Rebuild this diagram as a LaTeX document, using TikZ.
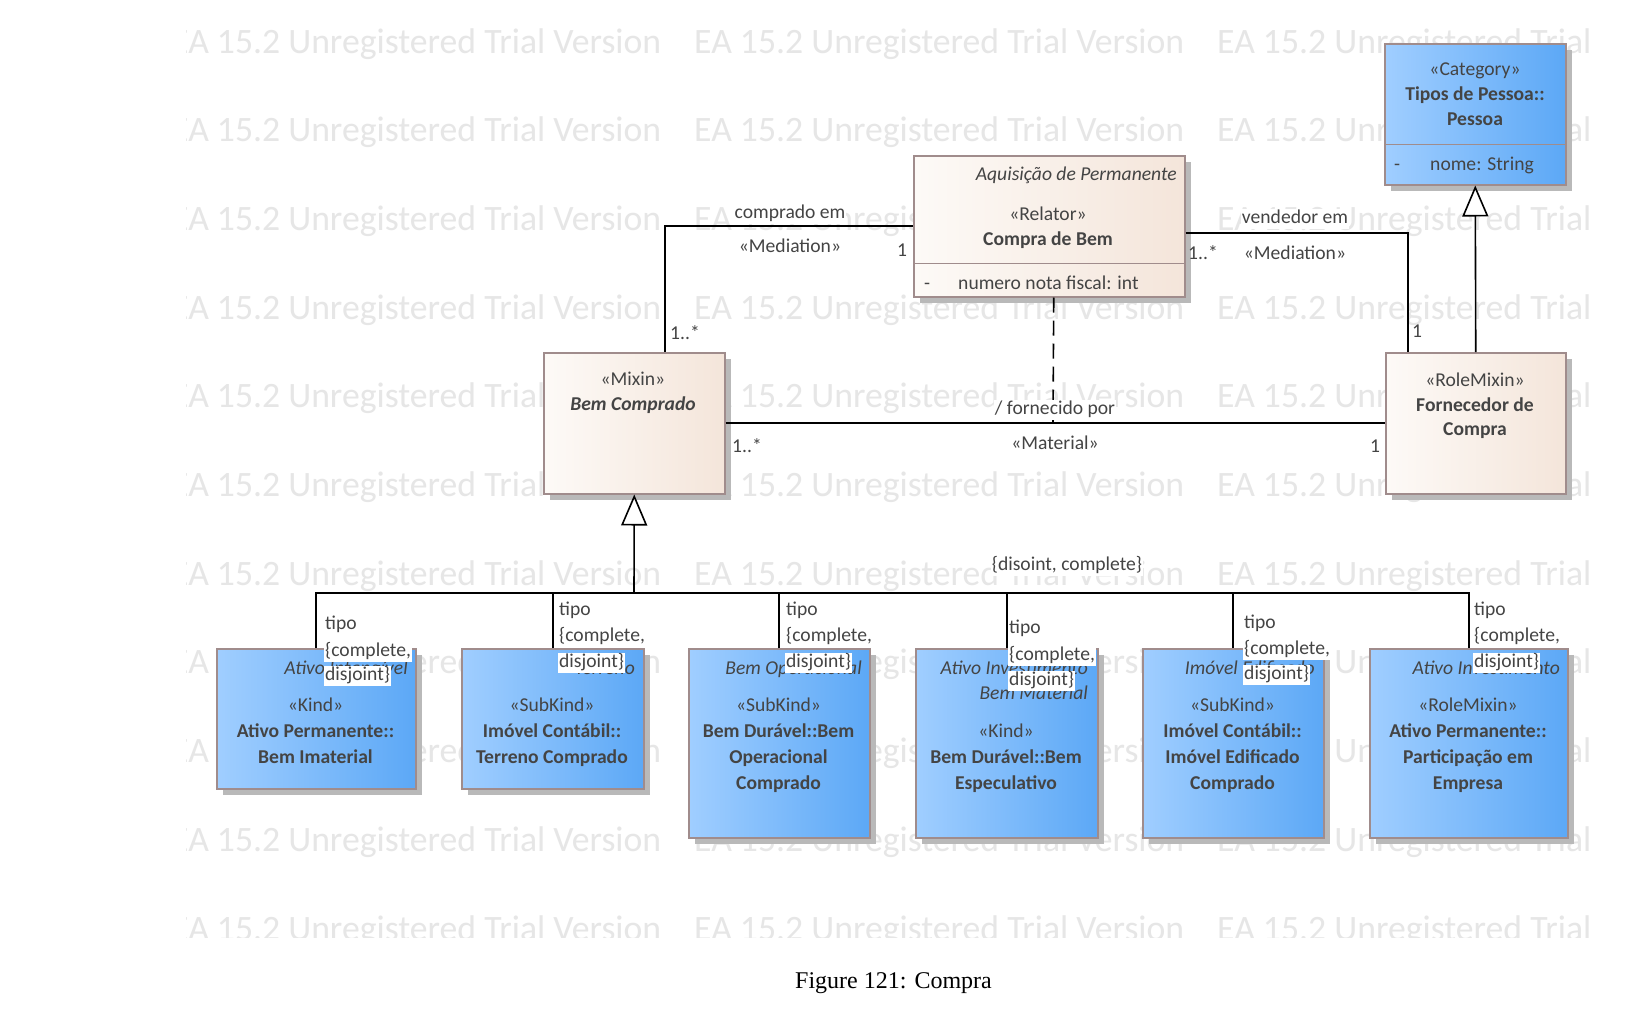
\documentclass[tikz,border=0pt]{standalone}
\usepackage{fontspec}
\setmainfont{Carlito}
\newfontfamily\captionfont{Liberation Serif}
\usetikzlibrary{arrows.meta}
\usetikzlibrary{shadows}
\definecolor{boxline}{RGB}{160,140,140}
\definecolor{textgray}{RGB}{68,68,68}
\definecolor{beigeL}{RGB}{253,250,247}
\definecolor{beigeR}{RGB}{244,229,218}
\definecolor{blueL}{RGB}{160,206,255}
\definecolor{blueR}{RGB}{92,168,246}
\definecolor{wmark}{RGB}{230,230,230}
\newcommand{\dfont}{\fontsize{19.6}{25.7}\selectfont}
\tikzset{
    classbox/.style={draw=boxline, line width=1.5pt, anchor=north west, inner sep=0pt,
        drop shadow={shadow xshift=6pt, shadow yshift=-6pt, fill=gray!55, opacity=1}},
    beigebox/.style={classbox, left color=beigeL, right color=beigeR},
    bluebox/.style={classbox, left color=blueL, right color=blueR},
    txt/.style={font=\dfont, text=textgray, inner sep=0pt, text height=13pt, text depth=4pt, yshift=-2.5pt},
    cname/.style={txt, font=\dfont\bfseries},
    pkgname/.style={txt, font=\dfont\itshape, anchor=east},
    lbl/.style={txt, fill=white, inner xsep=1pt, inner ysep=1.5pt},
    assoc/.style={line width=1.6pt},
    gen/.style={line width=1.6pt, -{Triangle[open, fill=white, length=31pt, width=26pt]}},
    watermark/.style={font=\fontsize{35.7}{40}\selectfont, text=wmark, anchor=base west, inner sep=0pt},
}

\begin{document}
\begin{tikzpicture}[x=1pt, y=-1pt]
    \fill[white] (0,0) rectangle (1652,1012);
    \useasboundingbox (0,0) rectangle (1652,1012);

    % trial watermark
    \begin{scope}
        \clip (186,0) rectangle (1597,937);
        \foreach \c in {0,1,2}
            \foreach \r in {0,...,10}
                \node[watermark] at ({171+523*\c},{53+88.7*\r}) {EA 15.2 Unregistered Trial Version};
    \end{scope}

    % classes
    \node[beigebox, minimum width=271pt, minimum height=141pt] (relator) at (913,155) {};
    \node[bluebox, minimum width=181pt, minimum height=141pt] (pessoa) at (1384,43) {};
    \node[beigebox, minimum width=181pt, minimum height=141pt] (bemcomprado) at (543,352) {};
    \node[beigebox, minimum width=180pt, minimum height=141pt] (fornecedor) at (1385,352) {};
    \draw[draw=boxline, line width=1.5pt] ([yshift=34pt]relator.south west) -- ([yshift=34pt]relator.south east);
    \draw[draw=boxline, line width=1.5pt] ([yshift=41pt]pessoa.south west) -- ([yshift=41pt]pessoa.south east);

    \node[pkgname] at (1177,173) {Aquisição de Permanente};
    \node[txt] at (1048,213) {«Relator»};
    \node[cname] at (1048,238) {Compra de Bem};
    \node[txt] at (927,282) {-};
    \node[txt, anchor=west] at (958,282) {numero nota fiscal: int};

    \node[txt] at (1475,68) {«Category»};
    \node[cname] at (1475,93) {Tipos de Pessoa::};
    \node[cname] at (1475,118) {Pessoa};
    \node[txt] at (1397,163) {-};
    \node[txt, anchor=west] at (1430,163) {nome: String};

    \node[txt] at (633,378) {«Mixin»};
    \node[cname, font=\dfont\bfseries\itshape] at (633,403) {Bem Comprado};

    \node[txt] at (1475,379) {«RoleMixin»};
    \node[cname] at (1475,404) {Fornecedor de};
    \node[cname] at (1475,428) {Compra};

    % kinds below
    \node[bluebox, minimum width=199pt, minimum height=140pt] (imaterial) at (216,648) {};
    \node[bluebox, minimum width=182pt, minimum height=140pt] (terreno) at (461,648) {};
    \node[bluebox, minimum width=181pt, minimum height=189pt] (operacional) at (688,648) {};
    \node[bluebox, minimum width=182pt, minimum height=189pt] (especulativo) at (915,648) {};
    \node[bluebox, minimum width=181pt, minimum height=189pt] (edificado) at (1142,648) {};
    \node[bluebox, minimum width=198pt, minimum height=189pt] (participacao) at (1369,648) {};

    \node[pkgname] at (408,667) {Ativo Intangível};
    \node[txt] at (315.5,704) {«Kind»};
    \node[cname] at (315.5,730) {Ativo Permanente::};
    \node[cname] at (315.5,756) {Bem Imaterial};

    \node[pkgname] at (635,667) {Terreno};
    \node[txt] at (552,704) {«SubKind»};
    \node[cname] at (552,730) {Imóvel Contábil::};
    \node[cname] at (552,756) {Terreno Comprado};

    \node[pkgname] at (862,667) {Bem Operacional};
    \node[txt] at (778.5,704) {«SubKind»};
    \node[cname] at (778.5,730) {Bem Durável::Bem};
    \node[cname] at (778.5,756) {Operacional};
    \node[cname] at (778.5,782) {Comprado};

    \node[pkgname] at (1088,667) {Ativo Investimento};
    \node[pkgname] at (1088,692) {Bem Material};
    \node[txt] at (1006,730) {«Kind»};
    \node[cname] at (1006,756) {Bem Durável::Bem};
    \node[cname] at (1006,782) {Especulativo};

    \node[pkgname] at (1315,667) {Imóvel Edificado};
    \node[txt] at (1232.5,704) {«SubKind»};
    \node[cname] at (1232.5,730) {Imóvel Contábil::};
    \node[cname] at (1232.5,756) {Imóvel Edificado};
    \node[cname] at (1232.5,782) {Comprado};

    \node[pkgname] at (1560,667) {Ativo Investimento};
    \node[txt] at (1468,704) {«RoleMixin»};
    \node[cname] at (1468,730) {Ativo Permanente::};
    \node[cname] at (1468,756) {Participação em};
    \node[cname] at (1468,782) {Empresa};

    % mediations
    \draw[assoc] (relator.west) -| ([xshift=30.5pt]bemcomprado.north);
    \node[lbl] at (790,211) {comprado em};
    \node[txt] at (790,245) {«Mediation»};
    \node[txt] at (902,249) {1};
    \node[txt] at (685,332) {1..*};

    \draw[assoc] ([yshift=-6.5pt]relator.east) -| ([xshift=-67.5pt]fornecedor.north);
    \node[lbl] at (1295,216) {vendedor em};
    \node[txt] at (1295,252) {«Mediation»};
    \node[txt] at (1203,252) {1..*};
    \node[txt] at (1417,330) {1};

    % material relation
    \draw[assoc] (bemcomprado.east) -- (fornecedor.west);
    \coordinate (matmid) at (1053,422.5);
    \draw[assoc, dash pattern=on 15pt off 8pt] ([xshift=4.5pt]relator.south) -- (matmid);
    \node[lbl] at (1055,407) {/ fornecido por};
    \node[txt] at (1055,442) {«Material»};
    \node[txt] at (747,445) {1..*};
    \node[txt] at (1375,445) {1};

    % generalizations
    \draw[gen] (fornecedor.north) -- (pessoa.south);
    \coordinate (gbar) at (634,593);
    \draw[gen] (gbar) -- (bemcomprado.south);
    \draw[assoc] (imaterial.north) |- (participacao.north |- gbar) -- (participacao.north);
    \foreach \b in {terreno, operacional, especulativo, edificado}
        \draw[assoc] (\b.north) -- (\b.north |- gbar);
    \node[lbl] at (1067,563) {\{disoint, complete\}};
    \foreach \x/\ya/\yb/\yc in {324/622/649/673, 558/608/634/660, 785/608/634/660,
                                1008/626/653/678, 1243/621/647/672, 1473/608/634/660} {
        \node[lbl, anchor=west] at (\x,\ya) {tipo};
        \node[lbl, anchor=west] at (\x,\yb) {\{complete,};
        \node[lbl, anchor=west] at (\x,\yc) {disjoint\}};
    }

    \node[font=\captionfont\fontsize{24}{28}\selectfont, anchor=base, inner sep=0pt] (caption) at (893.5,988) {Figure 121: Compra};
\end{tikzpicture}
\end{document}
